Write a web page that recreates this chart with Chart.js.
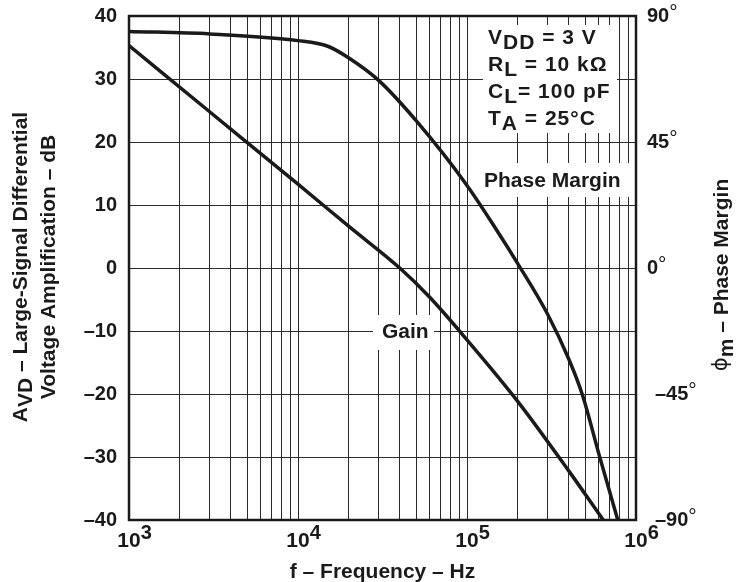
<!DOCTYPE html>
<html>
<head>
<meta charset="utf-8">
<script src="https://cdn.jsdelivr.net/npm/chart.js@4.4.1/dist/chart.umd.min.js"></script>
<style>
body { margin: 0; background: #fff; }
#chart { display: block; }
</style>
</head>
<body>
<canvas id="chart" width="740" height="582"></canvas>
<script>
// values
const gainFreq = [1e3, 3e3, 1e4, 2e4, 4e4, 6e4, 1e5, 2e5, 4e5, 6.4e5];
const gainDb = [35.3, 24.8, 13.3, 6.6, 0, -4.6, -11.4, -21.2, -32.2, -40];
const phaseFreq = [1e3, 3e3, 1e4, 1.5e4, 2e4, 3e4, 5e4, 1e5, 1.5e5, 2e5, 3e5, 4e5, 4.8e5, 6.1e5, 7.8e5];
const phaseDeg = [84.5, 83.6, 81.2, 79.2, 75, 67, 52.6, 29.5, 13.5, 1.5, -16.5, -32.5, -45, -67.5, -90];

const decades = [1e3, 1e4, 1e5, 1e6];
const minorSteps = [2, 3, 4, 5, 6, 7, 8, 9];
const gainTicks = [40, 30, 20, 10, 0, -10, -20, -30, -40];
const phaseTicks = [90, 45, 0, -45, -90];
const conditions = [
    ['V', 'DD', ' = 3 V'],
    ['R', 'L', ' = 10 kΩ'],
    ['C', 'L', '= 100 pF'],
    ['T', 'A', ' = 25°C']
];

const FONT = '"Liberation Sans", Arial, sans-serif';

function xGridTicks() {
    const ticks = [];
    decades.forEach((d, i) => {
        ticks.push({ value: d });
        if (i < decades.length - 1) minorSteps.forEach(m => ticks.push({ value: d * m }));
    });
    return ticks;
}

// draws a run of text pieces; each piece may be shifted down (subscript) or up (superscript)
function drawRich(ctx, parts, x, y, align) {
    let total = 0;
    parts.forEach(p => {
        ctx.font = p.font;
        p.w = ctx.measureText(p.t).width;
        total += p.w;
    });
    let cx = align === 'center' ? x - total / 2 : (align === 'right' ? x - total : x);
    ctx.textAlign = 'left';
    parts.forEach(p => {
        ctx.font = p.font;
        ctx.fillText(p.t, cx, y + (p.dy || 0));
        cx += p.w;
    });
}

const bold = size => 'bold ' + size + 'px ' + FONT;
const plain = size => size + 'px ' + FONT;

const decorPlugin = {
    id: 'decor',
    beforeDatasetsDraw(chart) {
        const ctx = chart.ctx;
        ctx.save();
        ctx.fillStyle = '#fff';
        // white patches behind the in-plot labels
        ctx.fillRect(483, 25, 134, 108);
        ctx.fillRect(478, 163, 157, 34);
        ctx.fillRect(373, 315, 61, 35);

        ctx.fillStyle = '#1a1a1a';
        ctx.textBaseline = 'alphabetic';
        ctx.letterSpacing = '1px';
        conditions.forEach((c, i) => {
            drawRich(ctx, [
                { t: c[0], font: bold(21) },
                { t: c[1], font: bold(21), dy: 5 },
                { t: c[2], font: bold(21) }
            ], 488, 44 + i * 27, 'left');
        });
        ctx.letterSpacing = '0px';
        ctx.font = bold(21);
        ctx.textAlign = 'left';
        ctx.fillText('Phase Margin', 484, 187);
        ctx.fillText('Gain', 382, 338);
        ctx.restore();
    },
    afterDraw(chart) {
        const ctx = chart.ctx;
        const a = chart.chartArea;
        const xs = chart.scales.x, ys = chart.scales.y, ys2 = chart.scales.y2;
        ctx.save();
        ctx.strokeStyle = '#1a1a1a';
        ctx.lineWidth = 2.5;
        ctx.strokeRect(a.left, a.top, a.right - a.left, a.bottom - a.top);

        ctx.fillStyle = '#1a1a1a';
        ctx.textBaseline = 'middle';

        // left ticks
        gainTicks.forEach(v => {
            const y = ys.getPixelForValue(v);
            const label = v < 0 ? '–' + Math.abs(v) : String(v);
            drawRich(ctx, [{ t: label, font: bold(20) }], 117, y, 'right');
        });

        // right ticks
        phaseTicks.forEach(v => {
            const y = ys2.getPixelForValue(v);
            const x = v < 0 ? 655 : 647;
            const label = v < 0 ? '–' + Math.abs(v) : String(v);
            drawRich(ctx, [
                { t: label, font: bold(20) },
                { t: '°', font: plain(21), dy: -3 }
            ], x, y, 'left');
        });

        // frequency ticks as powers of ten
        decades.forEach(d => {
            const x = xs.getPixelForValue(d);
            ctx.font = bold(21);
            const w = ctx.measureText('10').width;
            drawRich(ctx, [
                { t: '10', font: bold(21) },
                { t: String(Math.round(Math.log10(d))), font: bold(20), dy: -8 }
            ], x - w / 2, 541, 'left');
        });

        // axis titles
        drawRich(ctx, [{ t: 'f – Frequency – Hz', font: bold(21) }], (a.left + a.right) / 2, 572, 'center');

        ctx.save();
        ctx.translate(21, 267);
        ctx.rotate(-Math.PI / 2);
        drawRich(ctx, [
            { t: 'A', font: bold(21) },
            { t: 'VD', font: bold(21), dy: 5 },
            { t: ' – Large-Signal Differential', font: bold(21) }
        ], 0, 0, 'center');
        ctx.restore();

        ctx.save();
        ctx.translate(49, 267);
        ctx.rotate(-Math.PI / 2);
        drawRich(ctx, [{ t: 'Voltage Amplification – dB', font: bold(21) }], 0, 0, 'center');
        ctx.restore();

        ctx.save();
        ctx.translate(722, 275);
        ctx.rotate(-Math.PI / 2);
        drawRich(ctx, [
            { t: 'ϕ', font: '21px "DejaVu Sans", sans-serif' },
            { t: 'm', font: bold(21), dy: 5 },
            { t: ' – Phase Margin', font: bold(21) }
        ], 0, 0, 'center');
        ctx.restore();

        ctx.restore();
    }
};

const gainPoints = gainFreq.map((f, i) => ({ x: f, y: gainDb[i] }));
const phasePoints = phaseFreq.map((f, i) => ({ x: f, y: phaseDeg[i] }));

new Chart(document.getElementById('chart'), {
    type: 'line',
    data: {
        datasets: [{
            label: 'Gain',
            data: gainPoints,
            yAxisID: 'y',
            borderColor: '#1a1a1a',
            borderWidth: 3.5,
            pointRadius: 0,
            cubicInterpolationMode: 'monotone'
        }, {
            label: 'Phase Margin',
            data: phasePoints,
            yAxisID: 'y2',
            borderColor: '#1a1a1a',
            borderWidth: 3.5,
            pointRadius: 0,
            cubicInterpolationMode: 'monotone'
        }]
    },
    options: {
        responsive: false,
        animation: false,
        layout: {
            padding: { left: 129, right: 104, top: 16, bottom: 62 }
        },
        plugins: {
            legend: { display: false },
            tooltip: { enabled: false }
        },
        scales: {
            x: {
                type: 'logarithmic',
                min: 1e3,
                max: 1e6,
                afterBuildTicks: scale => { scale.ticks = xGridTicks(); },
                ticks: { display: false },
                border: { display: false },
                grid: { color: '#2a2a2a', lineWidth: 1, drawTicks: false }
            },
            y: {
                min: -40,
                max: 40,
                ticks: { display: false, stepSize: 10 },
                border: { display: false },
                grid: { color: '#2a2a2a', lineWidth: 1, drawTicks: false }
            },
            y2: {
                display: false,
                position: 'right',
                min: -90,
                max: 90
            }
        }
    },
    plugins: [decorPlugin]
});
</script>
</body>
</html>
